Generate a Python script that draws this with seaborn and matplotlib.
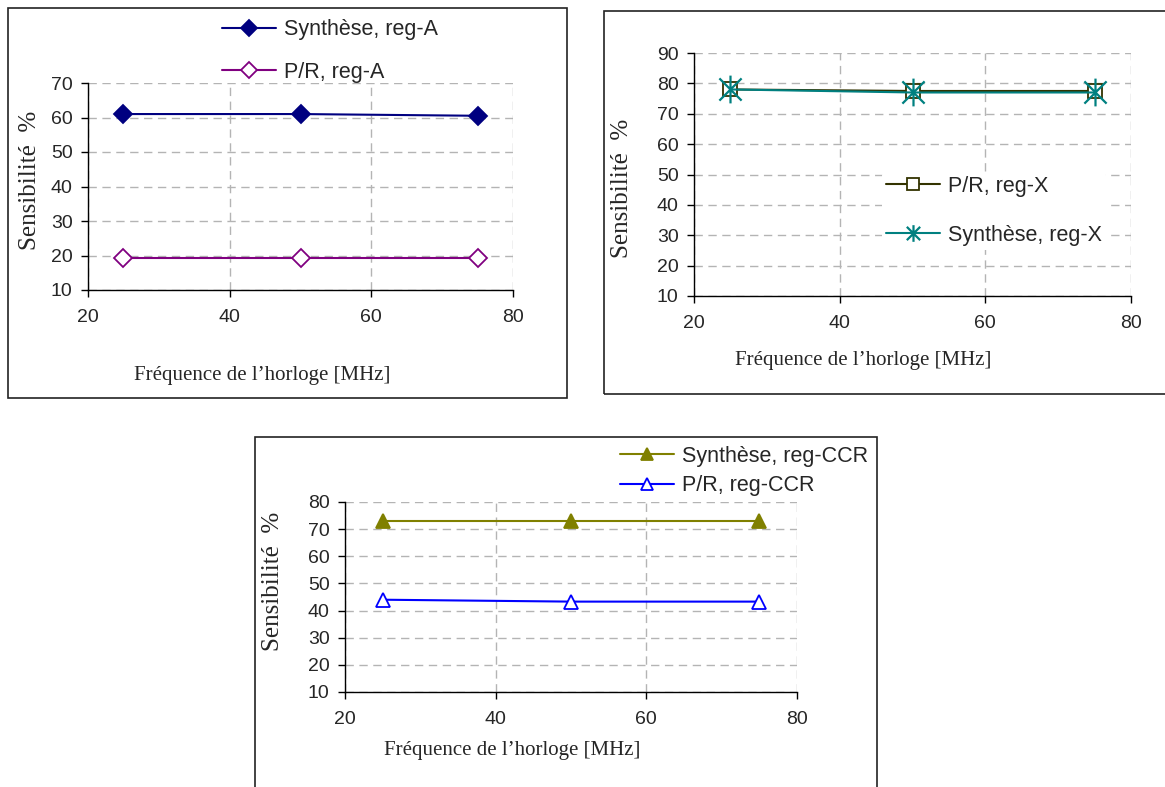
import matplotlib
matplotlib.use("Agg")
import matplotlib.pyplot as plt
import seaborn as sns
import pandas as pd
from matplotlib.patches import Rectangle
from matplotlib.path import Path

# ---------------- data ----------------
freq = [25, 50, 75]
xticks = [20, 40, 60, 80]

synth_A = [61.0, 61.0, 60.5]
pr_A = [19.3, 19.3, 19.3]

pr_X = [78.0, 77.5, 77.5]
synth_X = [78.0, 77.0, 77.0]

synth_CCR = [73.0, 73.0, 73.0]
pr_CCR = [44.0, 43.3, 43.3]

yticks_A = [10, 20, 30, 40, 50, 60, 70]
yticks_X = [10, 20, 30, 40, 50, 60, 70, 80, 90]
yticks_CCR = [10, 20, 30, 40, 50, 60, 70, 80]

xlabel = "Fréquence de l’horloge [MHz]"
ylabel = "Sensibilité  %"

# Excel-style asterisk marker: an X plus a vertical bar
ASTERISK = Path([(-1, -1), (1, 1), (-1, 1), (1, -1), (0, -1.25), (0, 1.25)],
                [Path.MOVETO, Path.LINETO, Path.MOVETO, Path.LINETO,
                 Path.MOVETO, Path.LINETO])

# ---------------- style ----------------
sns.set_style("white")
plt.rcParams["font.family"] = ["Liberation Sans", "DejaVu Sans"]

W, H = 1165, 787
fig = plt.figure(figsize=(W / 100, H / 100), dpi=100)


def fx(p):
    return p / W


def fy(p):
    return 1 - p / H


def make_ax(left, top, right, bottom):
    return fig.add_axes([fx(left), fy(bottom), (right - left) / W, (bottom - top) / H])


def style_ax(ax, yticks):
    ax.set_xlim(20, 80)
    ax.set_ylim(yticks[0], yticks[-1])
    ax.set_xticks(xticks)
    ax.set_yticks(yticks)
    ax.grid(True, color="#b4b4b4", linestyle=(0, (6, 4)), linewidth=1)
    ax.set_axisbelow(True)
    for s in ["top", "right"]:
        ax.spines[s].set_visible(False)
    for s in ["left", "bottom"]:
        ax.spines[s].set_color("black")
        ax.spines[s].set_linewidth(1)
    ax.tick_params(axis="both", direction="out", length=5, width=1, color="black",
                   labelsize=14, left=True, bottom=True)
    ax.tick_params(axis="x", pad=9)
    ax.tick_params(axis="y", pad=6)
    ax.set_xlabel("")
    ax.set_ylabel("")


def frame(x0, y0, x1, y1):
    fig.add_artist(Rectangle((fx(x0), fy(y1)), (x1 - x0) / W, (y1 - y0) / H,
                             transform=fig.transFigure, fill=False,
                             edgecolor="#222222", linewidth=1.2))


def labels(xc, yc, yx, yy):
    fig.text(fx(xc), fy(yc), xlabel, ha="center", va="center",
             fontsize=15, family=["Liberation Serif", "DejaVu Serif"])
    fig.text(fx(yx), fy(yy), ylabel, ha="center", va="center", rotation=90,
             fontsize=18, family=["Liberation Serif", "DejaVu Serif"])


def series(ax, y, label, color, marker, ms, mfc, mew=1.3):
    df = pd.DataFrame({"x": freq, "y": y})
    sns.lineplot(data=df, x="x", y="y", ax=ax, color=color, linewidth=1.5,
                 marker=marker, markersize=ms, markerfacecolor=mfc,
                 markeredgecolor=color, markeredgewidth=mew, label=label)


def legend(ax, x, y, spacing, framed):
    leg = ax.legend(loc="center left", bbox_to_anchor=(fx(x), fy(y)),
                    bbox_transform=fig.transFigure, frameon=framed, fontsize=15.5,
                    handlelength=2.5, handletextpad=0.35, labelspacing=spacing,
                    borderpad=0.2, borderaxespad=0, markerscale=0.85)
    if framed:
        leg.get_frame().set_facecolor("white")
        leg.get_frame().set_edgecolor("none")
        leg.get_frame().set_alpha(1)
    return leg


# ---------------- panel 1 ----------------
frame(8, 8, 567, 398)
ax1 = make_ax(88, 83, 513, 290)
series(ax1, synth_A, "Synthèse, reg-A", "#000080", "D", 9, "#000080")
series(ax1, pr_A, "P/R, reg-A", "#800080", "D", 9, "white")
style_ax(ax1, yticks_A)
legend(ax1, 218, 51, 1.0, False)
labels(262, 375, 30, 180)

# ---------------- panel 2 ----------------
frame(604, 11, 1180, 394)
ax2 = make_ax(694, 53, 1131, 296)
series(ax2, pr_X, "P/R, reg-X", "#333300", "s", 10.5, "white")
series(ax2, synth_X, "Synthèse, reg-X", "#008080", ASTERISK, 20, "#008080", 1.6)
style_ax(ax2, yticks_X)
leg2 = legend(ax2, 882, 211, 1.3, True)
leg2.legend_handles[1].set_markersize(12)
labels(863, 361, 622, 188)

# ---------------- panel 3 ----------------
frame(255, 437, 877, 800)
ax3 = make_ax(345, 502, 797, 692)
series(ax3, synth_CCR, "Synthèse, reg-CCR", "#808000", "^", 10, "#808000")
series(ax3, pr_CCR, "P/R, reg-CCR", "#0000ff", "^", 10, "white")
style_ax(ax3, yticks_CCR)
legend(ax3, 616, 471, 0.4, False)
labels(512, 750, 273, 581)

fig.savefig("out.png", dpi=100, facecolor="white")
